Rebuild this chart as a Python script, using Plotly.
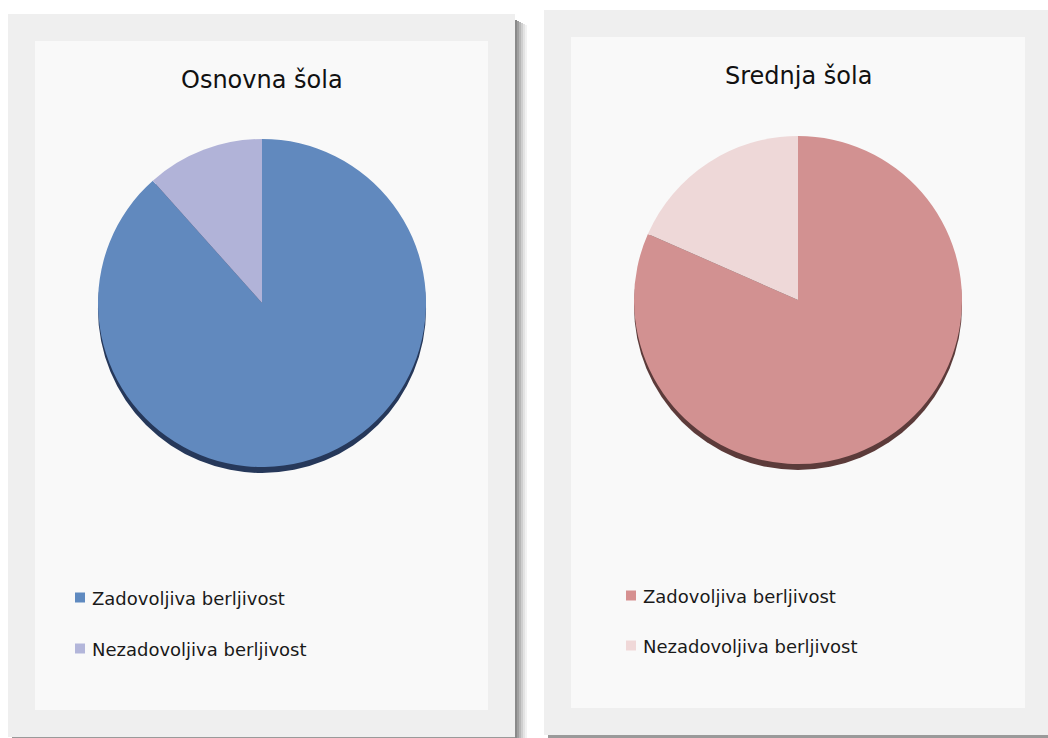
import plotly.graph_objects as go

W, H = 1048, 738

# ---- data ----
labels = ["Zadovoljiva berljivost", "Nezadovoljiva berljivost"]
titles = ["Osnovna šola", "Srednja šola"]
values_osnovna = [88.4, 11.6]
values_srednja = [81.6, 18.4]
colors_osnovna = ["#6189be", "#b1b3d8"]
colors_srednja = ["#d29191", "#eed8d8"]
legend_colors_osnovna = ["#5f8ac0", "#b3b6da"]
legend_colors_srednja = ["#d69090", "#f0d8d8"]
shadow_colors = ["#26385a", "#5c3b3a"]


def px(x):
    return x / W


def py(y):
    return 1 - y / H


fig = go.Figure()

# panel geometry (layout only)
panels = [
    dict(outer=(8, 14, 515, 737), inner=(35, 41, 488, 710), center=(262, 303), r=164,
         title_y=80, legend_x=75, legend_y=[597.5, 648.5]),
    dict(outer=(544, 10, 1048, 735), inner=(571, 37, 1025, 708), center=(798, 300), r=164,
         title_y=76, legend_x=626, legend_y=[595.5, 645.5]),
]

series = [
    (values_osnovna, colors_osnovna, legend_colors_osnovna),
    (values_srednja, colors_srednja, legend_colors_srednja),
]

shapes = []
annotations = []

for i, p in enumerate(panels):
    x0, y0, x1, y1 = p["outer"]
    # soft right shadow for left panel
    if i == 0:
        shade = ["#8a8a8a", "#a0a0a0", "#b8b8b8", "#cfcfcf", "#e3e3e3", "#f2f2f2"]
        for k, c in enumerate(shade):
            shapes.append(dict(type="rect", xref="paper", yref="paper",
                               x0=px(x1 + 2 * k), x1=px(x1 + 2 * k + 2),
                               y0=py(H + 2), y1=py(y0 + 6 + k),
                               fillcolor=c, line_width=0, layer="below"))
    # bottom shadow
    shapes.append(dict(type="rect", xref="paper", yref="paper",
                       x0=px(x0 + 4), x1=px(x1), y0=py(y1 + 3), y1=py(y1),
                       fillcolor="#9a9a9a", line_width=0, layer="below"))
    shapes.append(dict(type="rect", xref="paper", yref="paper",
                       x0=px(x0), x1=px(x1), y0=py(y1), y1=py(y0),
                       fillcolor="#efefef", line_width=0, layer="below"))
    ix0, iy0, ix1, iy1 = p["inner"]
    shapes.append(dict(type="rect", xref="paper", yref="paper",
                       x0=px(ix0), x1=px(ix1), y0=py(iy1), y1=py(iy0),
                       fillcolor="#f9f9f9", line_width=0, layer="below"))

    cx, cy = p["center"]
    r = p["r"]
    vals, cols, lcols = series[i]

    # shadow disc (drawn first, offset downward)
    off = 6
    fig.add_trace(go.Pie(
        values=[sum(vals)], labels=["shadow"], sort=False, textinfo="none",
        hoverinfo="skip", showlegend=False,
        marker=dict(colors=[shadow_colors[i]], line=dict(width=0)),
        domain=dict(x=[px(cx - r), px(cx + r)], y=[py(cy + off + r), py(cy + off - r)]),
    ))
    fig.add_trace(go.Pie(
        values=vals, labels=labels, sort=False, direction="clockwise", rotation=0,
        textinfo="none", showlegend=False,
        marker=dict(colors=cols, line=dict(width=0)),
        domain=dict(x=[px(cx - r), px(cx + r)], y=[py(cy + r), py(cy - r)]),
    ))

    annotations.append(dict(text=titles[i], x=px(cx), y=py(p["title_y"]), xref="paper", yref="paper",
                            xanchor="center", yanchor="middle", showarrow=False,
                            font=dict(family="DejaVu Sans", size=24, color="#111111")))

    lx = p["legend_x"]
    for lab, col, ly in zip(labels, lcols, p["legend_y"]):
        shapes.append(dict(type="rect", xref="paper", yref="paper",
                           x0=px(lx), x1=px(lx + 10), y0=py(ly + 5), y1=py(ly - 5),
                           fillcolor=col, line_width=0))
        annotations.append(dict(text=lab, x=px(lx + 15), y=py(ly + 1), xref="paper", yref="paper",
                                xanchor="left", yanchor="middle", showarrow=False,
                                font=dict(family="DejaVu Sans", size=18, color="#1a1a1a")))

fig.update_layout(
    width=W, height=H,
    margin=dict(l=0, r=0, t=0, b=0),
    paper_bgcolor="#ffffff",
    plot_bgcolor="#ffffff",
    shapes=shapes,
    annotations=annotations,
    showlegend=False,
)

fig.write_html(
    "out.html",
    config={"displayModeBar": False},
    post_script="document.body.style.margin='0';document.body.style.overflow='hidden';",
)
